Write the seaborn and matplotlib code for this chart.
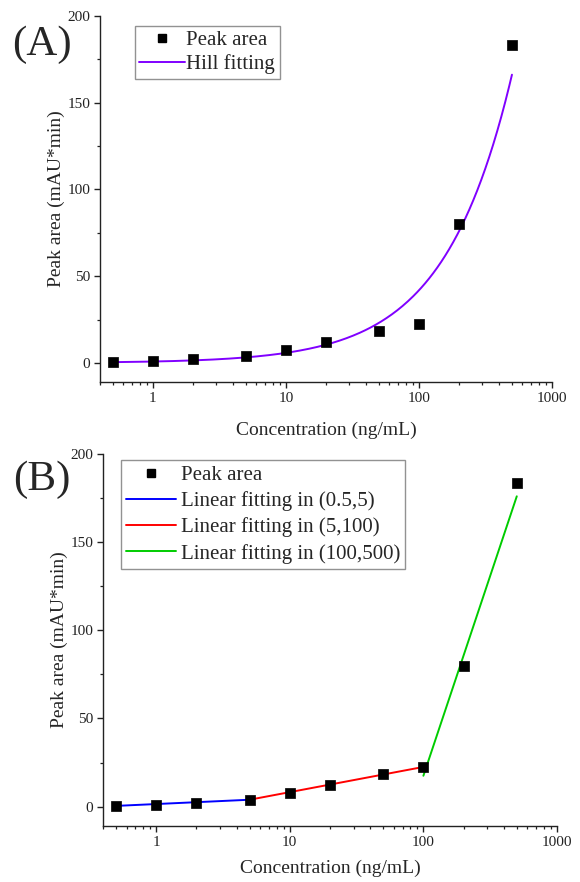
import numpy as np
import pandas as pd
import matplotlib
matplotlib.use("Agg")
import matplotlib.pyplot as plt
import seaborn as sns
from matplotlib.lines import Line2D
from matplotlib.ticker import MultipleLocator, FixedLocator, NullFormatter

# ---- data ----
concentration = [0.5, 1, 2, 5, 10, 20, 50, 100, 200, 500]
peak_area = [0.3, 1.0, 2.1, 3.8, 7.6, 12.0, 18.3, 22.3, 80.0, 183.5]

# Hill fitting parameters (panel A)
hill_vmax = 20000.0
hill_k = 1.3e5
hill_n = 0.86
hill_range = [0.5, 500]

# Linear fitting segments (panel B): endpoints
seg_labels = ["Linear fitting in (0.5,5)", "Linear fitting in (5,100)", "Linear fitting in (100,500)"]
seg_x = [[0.5, 5], [5, 100], [100, 500]]
seg_y = [[0.4, 3.9], [3.9, 22.5], [17.5, 176.0]]
seg_colors = ["#0000FF", "#FF0000", "#00CC00"]

x_ticks = [1, 10, 100, 1000]
x_tick_labels = ["1", "10", "100", "1000"]
y_ticks = [0, 50, 100, 150, 200]

sns.set_style("ticks")
plt.rcParams["font.family"] = ["Liberation Serif", "DejaVu Serif"]
plt.rcParams["mathtext.fontset"] = "stix"

fig = plt.figure(figsize=(5.8, 8.82), dpi=100)
axA = fig.add_axes([100 / 580, 1 - 382 / 882, 452 / 580, 366 / 882])
axB = fig.add_axes([103 / 580, 1 - 826 / 882, 454 / 580, 372 / 882])

df = pd.DataFrame({"conc": concentration, "area": peak_area})

hill_x = np.logspace(np.log10(hill_range[0]), np.log10(hill_range[1]), 300)
hill_y = hill_vmax * hill_x ** hill_n / (hill_k ** hill_n + hill_x ** hill_n)
df_hill = pd.DataFrame({"conc": hill_x, "area": hill_y})

FS_TICK = 11
FS_LAB = 14
FS_LEG = 15


def style_axis(ax, ymin, xpad):
    ax.set_xscale("log")
    ax.set_xlim(0.4, 1000)
    ax.set_ylim(ymin, 200)
    ax.xaxis.set_major_locator(FixedLocator(x_ticks))
    ax.set_xticklabels(x_tick_labels)
    minors = [m * 10.0 ** e for e in range(-1, 3) for m in range(2, 10)]
    minors = [v for v in minors if 0.4 <= v <= 1000]
    ax.xaxis.set_minor_locator(FixedLocator(minors))
    ax.xaxis.set_minor_formatter(NullFormatter())
    ax.yaxis.set_major_locator(FixedLocator(y_ticks))
    ax.yaxis.set_minor_locator(MultipleLocator(25))
    for s in ["top", "right"]:
        ax.spines[s].set_visible(False)
    for s in ["left", "bottom"]:
        ax.spines[s].set_linewidth(1.0)
        ax.spines[s].set_color("#222222")
    ax.tick_params(which="major", direction="out", length=4, width=1.0,
                   labelsize=FS_TICK, colors="#222222", pad=3)
    ax.tick_params(which="minor", direction="out", length=2.5, width=0.9, colors="#222222")
    ax.set_xlabel("Concentration (ng/mL)", fontsize=FS_LAB, labelpad=xpad)
    ax.set_ylabel("Peak area (mAU*min)", fontsize=FS_LAB, labelpad=2)
    ax.set_facecolor("white")


# ---- Panel A ----
sns.lineplot(data=df_hill, x="conc", y="area", ax=axA, color="#8000FF",
             linewidth=1.4, zorder=2, legend=False)
sns.scatterplot(data=df, x="conc", y="area", ax=axA, marker="s", s=50,
                color="black", edgecolor="black", linewidth=0.5, zorder=3, legend=False)
style_axis(axA, -11, 12)
hA = [Line2D([], [], marker="s", color="black", linestyle="none", markersize=6),
      Line2D([], [], color="#8000FF", linewidth=1.4)]
legA = axA.legend(hA, ["Peak area", "Hill fitting"], loc="upper left",
                  bbox_to_anchor=(0.077, 0.973), fontsize=FS_LEG, frameon=True,
                  fancybox=False, edgecolor="#777777", handlelength=2.2,
                  handletextpad=0.05, labelspacing=0.2, borderpad=0.22,
                  borderaxespad=0.0)
legA.get_frame().set_linewidth(1.0)
fig.text(42 / 580, 1 - 45 / 882, "(A)", fontsize=31, ha="center", va="center")

# ---- Panel B ----
for lab, xs, ys, c in zip(seg_labels, seg_x, seg_y, seg_colors):
    sns.lineplot(x=xs, y=ys, ax=axB, color=c, linewidth=1.4, zorder=2, legend=False)
sns.scatterplot(data=df, x="conc", y="area", ax=axB, marker="s", s=50,
                color="black", edgecolor="black", linewidth=0.5, zorder=3, legend=False)
style_axis(axB, -11, 8)
hB = [Line2D([], [], marker="s", color="black", linestyle="none", markersize=6)] + \
     [Line2D([], [], color=c, linewidth=1.4) for c in seg_colors]
legB = axB.legend(hB, ["Peak area"] + seg_labels, loc="upper left",
                  bbox_to_anchor=(0.04, 0.983), fontsize=FS_LEG, frameon=True,
                  fancybox=False, edgecolor="#777777", handlelength=2.4,
                  handletextpad=0.2, labelspacing=0.3, borderpad=0.25,
                  borderaxespad=0.0)
legB.get_frame().set_linewidth(1.0)
fig.text(42 / 580, 1 - 480 / 882, "(B)", fontsize=31, ha="center", va="center")

fig.savefig("out.png", dpi=100, facecolor="white")
